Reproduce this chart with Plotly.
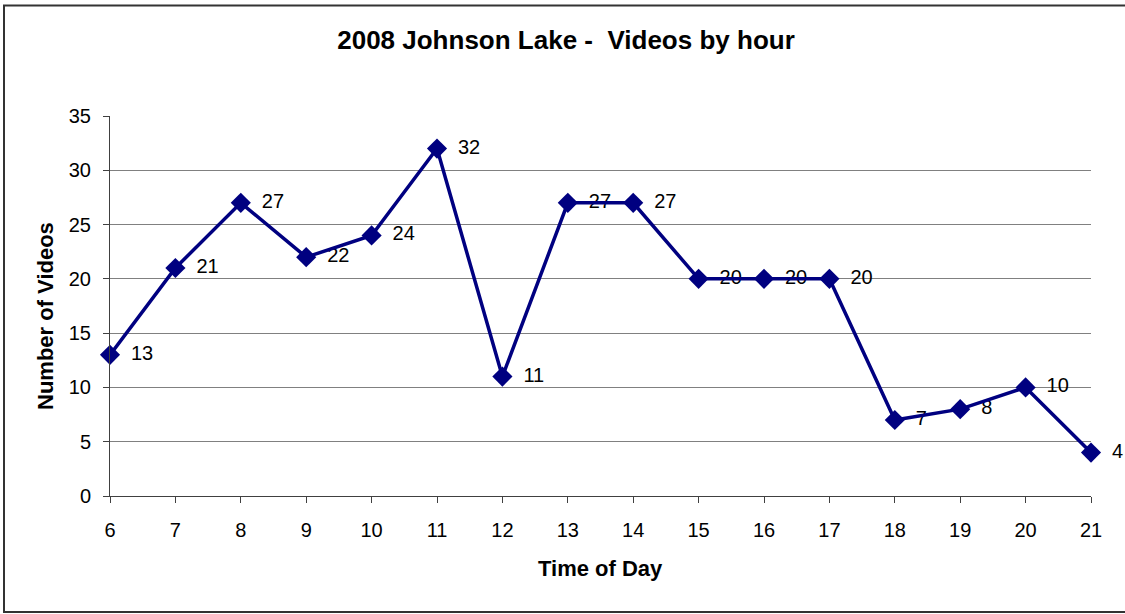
"""
Johnson Lake 2008 - jumlah video per jam (gaya chart Excel).
"""

import plotly.graph_objects as go

# ----------------------------------------------------------------------
# data
hours = [6, 7, 8, 9, 10, 11, 12, 13, 14, 15, 16, 17, 18, 19, 20, 21]
videos = [13, 21, 27, 22, 24, 32, 11, 27, 27, 20, 20, 20, 7, 8, 10, 4]
y_ticks = [0, 5, 10, 15, 20, 25, 30, 35]

title_text = "2008 Johnson Lake -  Videos by hour"
x_title = "Time of Day"
y_title = "Number of Videos"

NAVY = "#000080"
FONT = "Liberation Sans, Arial, sans-serif"

W, H = 1125, 614
L, R, T, B = 110, 34, 116, 118
PW, PH = W - L - R, H - T - B  # ukuran plot area (px)


def px_x(x):
    """pixel horizontal -> koordinat paper"""
    return (x - L) / PW


def px_y(y):
    """pixel vertikal (dari atas) -> koordinat paper"""
    return (T + PH - y) / PH


# ----------------------------------------------------------------------
fig = go.Figure()

# label nilai dulu (di bawah garis, seperti di Excel).
# marker transparan cuma dipakai buat jarak label ke kanan titik
fig.add_trace(
    go.Scatter(
        x=hours,
        y=videos,
        mode="markers+text",
        text=[str(v) for v in videos],
        textposition="middle right",
        textfont=dict(family=FONT, size=20, color="black"),
        marker=dict(size=32, opacity=0),
        cliponaxis=False,
        hoverinfo="skip",
        showlegend=False,
    )
)
fig.add_trace(
    go.Scatter(
        x=hours,
        y=videos,
        mode="lines+markers",
        line=dict(color=NAVY, width=3.5),
        marker=dict(symbol="diamond", size=15.5, color=NAVY),
        cliponaxis=False,
        showlegend=False,
    )
)

# judul sumbu
fig.add_annotation(
    x=px_x(600), y=px_y(568), xref="paper", yref="paper",
    text=f"<b>{x_title}</b>", showarrow=False,
    xanchor="center", yanchor="middle",
    font=dict(family=FONT, size=22, color="black"),
)
fig.add_annotation(
    x=px_x(45), y=px_y(316), xref="paper", yref="paper",
    text=f"<b>{y_title}</b>", showarrow=False, textangle=-90,
    xanchor="center", yanchor="middle",
    font=dict(family=FONT, size=22, color="black"),
)

# bingkai luar chart (sisi kanan di luar gambar)
fig.add_shape(
    type="rect", xref="paper", yref="paper",
    x0=px_x(4), x1=px_x(W + 20),
    y0=px_y(612), y1=px_y(5.5),
    line=dict(color="#333333", width=2),
)

fig.update_layout(
    width=W,
    height=H,
    margin=dict(l=L, r=R, t=T, b=B),
    paper_bgcolor="white",
    plot_bgcolor="white",
    font=dict(family=FONT, size=20, color="black"),
    title=dict(
        text=f"<b>{title_text}</b>",
        x=566 / W,
        xanchor="center",
        y=1 - 40 / H,
        yanchor="middle",
        font=dict(family=FONT, size=26, color="black"),
    ),
)
fig.update_xaxes(
    range=[6, 21],
    tickmode="array",
    tickvals=hours,
    ticktext=[str(h) for h in hours],
    showgrid=False,
    zeroline=False,
    showline=True,
    linecolor="#404040",
    linewidth=1,
    ticks="outside",
    ticklen=6,
    tickcolor="#404040",
    ticklabelstandoff=10,
    tickfont=dict(family=FONT, size=20, color="black"),
)
fig.update_yaxes(
    range=[0, 35],
    tickmode="array",
    tickvals=y_ticks,
    ticktext=[str(t) for t in y_ticks],
    showgrid=True,
    gridcolor="#808080",
    gridwidth=1,
    zeroline=False,
    showline=True,
    linecolor="#404040",
    linewidth=1,
    ticks="outside",
    ticklen=6,
    tickcolor="#404040",
    ticklabelstandoff=8,
    tickfont=dict(family=FONT, size=20, color="black"),
)

# margin default <body> dibuang supaya figure pas di jendela 1125x614
fig.write_html(
    "out.html",
    config={"displayModeBar": False},
    post_script="document.body.style.margin='0';document.body.style.overflow='hidden';",
)
